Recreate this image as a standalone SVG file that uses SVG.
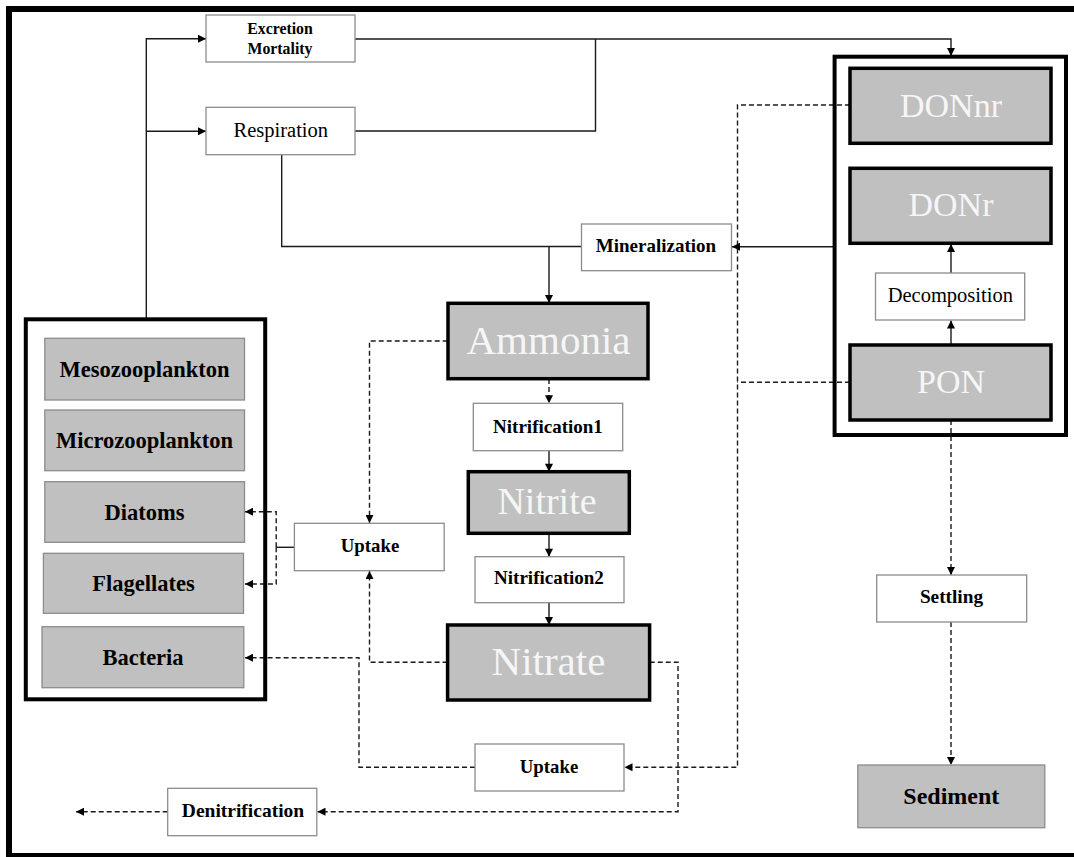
<svg xmlns="http://www.w3.org/2000/svg" width="1074" height="857" viewBox="0 0 1074 857">
  <style>
    .frame { fill: #000; }
    .container { fill: none; stroke: #000; stroke-width: 4; }
    .proc { fill: #fff; stroke: #8c8c8c; stroke-width: 1.3; }
    .pool { fill: #c0c0c0; stroke: #000; stroke-width: 3.5; }
    .bio { fill: #c0c0c0; stroke: #8c8c8c; stroke-width: 1.3; }
    text { font-family: "Liberation Serif", "DejaVu Serif", "Times New Roman", serif; }
    .lbl { fill: #000; text-anchor: middle; }
    .b { font-weight: bold; }
    .big { fill: #f6f6f6; text-anchor: middle; }
    .ln { fill: none; stroke: #1a1a1a; stroke-width: 1.4; }
    .dash { fill: none; stroke: #1a1a1a; stroke-width: 1.4; stroke-dasharray: 5 3; }
  </style>
  <defs>
    <marker id="ah" viewBox="0 0 10 10" refX="10" refY="5" markerWidth="9" markerHeight="8" markerUnits="userSpaceOnUse" orient="auto">
      <path d="M0,0 L10,5 L0,10 Z" fill="#000"/>
    </marker>
  </defs>

  <rect width="1074" height="857" fill="#fff"/>

  <!-- outer frame -->
  <g id="frame">
    <rect class="frame" x="6" y="6" width="1068" height="6"/>
    <rect class="frame" x="6" y="6" width="6" height="851"/>
    <rect class="frame" x="6" y="853" width="1068" height="4"/>
  </g>

  <!-- connectors -->
  <g id="connectors">
    <!-- plankton to excretion / respiration -->
    <path class="ln" d="M146.3,319 V38.7 H206" marker-end="url(#ah)"/>
    <path class="ln" d="M146.3,131.3 H206" marker-end="url(#ah)"/>
    <!-- excretion / respiration to organic pool -->
    <path class="ln" d="M355,39 H951 V56" marker-end="url(#ah)"/>
    <path class="ln" d="M355,131 H595.5 V39"/>
    <!-- respiration and mineralization to ammonia -->
    <path class="ln" d="M281.7,155 V246.5 H581.5"/>
    <path class="ln" d="M549,246.5 V303" marker-end="url(#ah)"/>
    <path class="ln" d="M834.6,246.7 H732" marker-end="url(#ah)"/>
    <!-- decomposition chain -->
    <path class="ln" d="M951,345 V320.5" marker-end="url(#ah)"/>
    <path class="ln" d="M951,273 V244" marker-end="url(#ah)"/>
    <!-- nitrification chain -->
    <path class="dash" d="M549,379 V403.3" marker-end="url(#ah)"/>
    <path class="ln" d="M549,450.7 V471.7" marker-end="url(#ah)"/>
    <path class="ln" d="M549,533.3 V556.7" marker-end="url(#ah)"/>
    <path class="ln" d="M549,602.7 V625" marker-end="url(#ah)"/>
    <!-- uptake to phytoplankton -->
    <path class="ln" d="M294.4,547.3 H276.2"/>
    <path class="dash" d="M276.2,547.3 V511.7 H245" marker-end="url(#ah)"/>
    <path class="dash" d="M276.2,547.3 V584 H245" marker-end="url(#ah)"/>
    <!-- ammonia and nitrate to uptake -->
    <path class="dash" d="M447.7,341 H369.5 V523" marker-end="url(#ah)"/>
    <path class="dash" d="M447.6,662.3 H369.5 V571" marker-end="url(#ah)"/>
    <!-- dissolved / particulate organic N to bacterial uptake -->
    <path class="dash" d="M850,105 H737.5 V767.3 H624.5" marker-end="url(#ah)"/>
    <path class="dash" d="M850,382.3 H737.5"/>
    <path class="dash" d="M475,767.3 H359 V657.7 H245" marker-end="url(#ah)"/>
    <!-- denitrification -->
    <path class="dash" d="M649.7,662.3 H678 V811.7 H317.5" marker-end="url(#ah)"/>
    <path class="dash" d="M167.7,811.7 H76" marker-end="url(#ah)"/>
    <!-- settling -->
    <path class="dash" d="M951,420 V575" marker-end="url(#ah)"/>
    <path class="dash" d="M951,622 V765" marker-end="url(#ah)"/>
  </g>

  <!-- process boxes -->
  <g id="excretion-mortality">
    <rect class="proc" x="206" y="15" width="149" height="47"/>
    <text class="lbl b" x="280" y="34.3" font-size="15.8">Excretion</text>
    <text class="lbl b" x="280" y="54" font-size="15.8">Mortality</text>
  </g>
  <g id="respiration">
    <rect class="proc" x="206" y="107.3" width="149" height="47.4"/>
    <text class="lbl" x="280.8" y="136.7" font-size="20.5">Respiration</text>
  </g>
  <g id="mineralization">
    <rect class="proc" x="581.5" y="224" width="150" height="46.7"/>
    <text class="lbl b" x="656" y="252.3" font-size="19">Mineralization</text>
  </g>
  <g id="decomposition">
    <rect class="proc" x="875.5" y="273" width="149.2" height="47"/>
    <text class="lbl" x="950.3" y="301.7" font-size="20.5">Decomposition</text>
  </g>
  <g id="nitrification1">
    <rect class="proc" x="473.3" y="403.3" width="149.4" height="47.4"/>
    <text class="lbl b" x="548" y="432.7" font-size="19">Nitrification1</text>
  </g>
  <g id="nitrification2">
    <rect class="proc" x="475" y="556.7" width="149" height="46"/>
    <text class="lbl b" x="549" y="584" font-size="19">Nitrification2</text>
  </g>
  <g id="uptake-phyto">
    <rect class="proc" x="294.4" y="523.3" width="149.8" height="47.4"/>
    <text class="lbl b" x="370" y="552.3" font-size="18.8">Uptake</text>
  </g>
  <g id="uptake-bacteria">
    <rect class="proc" x="475" y="744" width="149" height="47"/>
    <text class="lbl b" x="549" y="772.7" font-size="18.8">Uptake</text>
  </g>
  <g id="denitrification">
    <rect class="proc" x="167.7" y="788.3" width="149.1" height="47.4"/>
    <text class="lbl b" x="243" y="817" font-size="19.5">Denitrification</text>
  </g>
  <g id="settling">
    <rect class="proc" x="876.7" y="575" width="150" height="47"/>
    <text class="lbl b" x="951.5" y="603.3" font-size="19.3">Settling</text>
  </g>

  <!-- nitrogen pools -->
  <g id="ammonia">
    <rect class="pool" x="448" y="303.3" width="200" height="75.4"/>
    <text class="big" x="548.5" y="354" font-size="41">Ammonia</text>
  </g>
  <g id="nitrite">
    <rect class="pool" x="468.3" y="471.7" width="161" height="61.6"/>
    <text class="big" x="547" y="514" font-size="38">Nitrite</text>
  </g>
  <g id="nitrate">
    <rect class="pool" x="447.6" y="625" width="202" height="75"/>
    <text class="big" x="548.5" y="675" font-size="41">Nitrate</text>
  </g>

  <!-- organic nitrogen group -->
  <g id="organic-n">
    <rect class="container" x="834.6" y="56.7" width="231.4" height="378.3"/>
    <g id="donnr">
      <rect class="pool" x="850" y="68.3" width="201" height="75"/>
      <text class="big" x="951" y="116.5" font-size="34">DONnr</text>
    </g>
    <g id="donr">
      <rect class="pool" x="850" y="168.3" width="201" height="75"/>
      <text class="big" x="951" y="216" font-size="34">DONr</text>
    </g>
    <g id="pon">
      <rect class="pool" x="850" y="345" width="201" height="75"/>
      <text class="big" x="951" y="393" font-size="34">PON</text>
    </g>
  </g>

  <!-- plankton group -->
  <g id="plankton">
    <rect class="container" x="25.8" y="319.3" width="239.4" height="380"/>
    <g id="mesozooplankton">
      <rect class="bio" x="44.8" y="338.3" width="199.7" height="61.7"/>
      <text class="lbl b" x="144.5" y="377" font-size="22.5">Mesozooplankton</text>
    </g>
    <g id="microzooplankton">
      <rect class="bio" x="44.8" y="410" width="199.7" height="60.7"/>
      <text class="lbl b" x="144.5" y="448" font-size="22.5">Microzooplankton</text>
    </g>
    <g id="diatoms">
      <rect class="bio" x="44.8" y="481.7" width="199.7" height="60.6"/>
      <text class="lbl b" x="144.5" y="519.8" font-size="22.5">Diatoms</text>
    </g>
    <g id="flagellates">
      <rect class="bio" x="43.4" y="553.3" width="200.1" height="60"/>
      <text class="lbl b" x="143.5" y="591" font-size="22.5">Flagellates</text>
    </g>
    <g id="bacteria">
      <rect class="bio" x="42" y="626.7" width="201.8" height="61"/>
      <text class="lbl b" x="143" y="665" font-size="22.5">Bacteria</text>
    </g>
  </g>

  <g id="sediment">
    <rect class="bio" x="857.8" y="765" width="187" height="62.7"/>
    <text class="lbl b" x="951.3" y="804.3" font-size="24">Sediment</text>
  </g>
</svg>
